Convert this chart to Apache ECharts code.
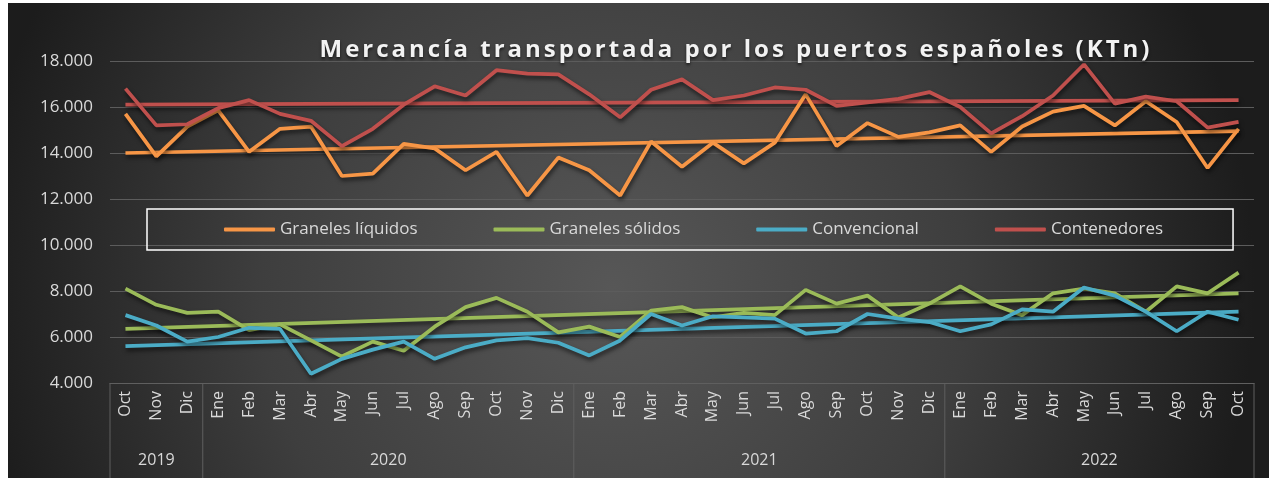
<!DOCTYPE html>
<html><head><meta charset="utf-8">
<script src="https://cdn.jsdelivr.net/npm/echarts@6/dist/echarts.min.js"></script>
<style>html,body{margin:0;padding:0;background:#fff;} #c{position:absolute;left:8px;top:3px;width:1261px;height:475px;}</style>
</head><body><div id="c"></div>
<script>
const months = ['Oct','Nov','Dic',
  'Ene','Feb','Mar','Abr','May','Jun','Jul','Ago','Sep','Oct','Nov','Dic',
  'Ene','Feb','Mar','Abr','May','Jun','Jul','Ago','Sep','Oct','Nov','Dic',
  'Ene','Feb','Mar','Abr','May','Jun','Jul','Ago','Sep','Oct'];
const years = ['2019','2020','2021','2022'];
const yearSpans = [3, 12, 12, 10];
const yTicks = [4000, 18000, 2000];
const titleText = 'Mercancía transportada por los puertos españoles (KTn)';

const liquidos = [15700,13850,15150,15850,14050,15050,15150,13000,13100,14400,14200,13250,14050,12150,13800,
  13250,12150,14500,13400,14450,13550,14450,16550,14300,15300,14700,14900,
  15200,14050,15150,15800,16050,15200,16250,15350,13350,15050];
const solidos = [8100,7400,7050,7100,6300,6550,5850,5150,5800,5400,6450,7300,7700,7100,6200,
  6450,6000,7150,7300,6850,7050,6950,8050,7450,7800,6850,7450,
  8200,7450,6950,7900,8100,7900,7100,8200,7900,8800];
const convencional = [6950,6500,5800,6000,6400,6350,4400,5050,5450,5800,5050,5550,5850,5950,5750,
  5200,5850,7000,6500,6900,6850,6800,6150,6250,7000,6800,6650,
  6250,6550,7200,7100,8150,7800,7100,6250,7100,6750];
const contenedores = [16800,15200,15250,15950,16300,15700,15400,14300,15050,16100,16900,16500,17600,17450,17420,
  16550,15550,16750,17200,16300,16500,16850,16750,16050,16200,16350,16650,
  16000,14850,15600,16500,17850,16150,16450,16250,15100,15350];

// trend line end values [first month, last month]
const trendLiquidos = [14000, 14950];
const trendSolidos = [6350, 7900];
const trendConvencional = [5600, 7100];
const trendContenedores = [16100, 16300];

const names = ['Graneles líquidos','Graneles sólidos','Convencional','Contenedores'];
const colors = ['#F79646','#9BBB59','#4BACC6','#C0504D'];
const seriesData = [liquidos, solidos, convencional, contenedores];
const trends = [trendLiquidos, trendSolidos, trendConvencional, trendContenedores];

// widen the title's letter spacing (as in the original) when the canvas supports it
(function(){
  const P = CanvasRenderingContext2D.prototype;
  if (!('letterSpacing' in P)) return;
  const ft = P.fillText, mt = P.measureText;
  P.fillText = function(t, x, y, m){
    if (t === titleText){ const o = this.letterSpacing; this.letterSpacing = '3px';
      const r = m === undefined ? ft.call(this, t, x, y) : ft.call(this, t, x, y, m); this.letterSpacing = o; return r; }
    return m === undefined ? ft.call(this, t, x, y) : ft.call(this, t, x, y, m);
  };
})();

function trendArr(t){ const a = months.map(()=>null); a[0]=t[0]; a[a.length-1]=t[1]; return a; }

const shadow = {shadowColor:'rgba(0,0,0,0.6)', shadowBlur:4, shadowOffsetX:1, shadowOffsetY:3};
const series = [];
names.forEach((n,i)=>{
  series.push({name:n, type:'line', data:seriesData[i], symbol:'none', smooth:false,
    lineStyle:Object.assign({color:colors[i], width:3.75}, shadow), itemStyle:{color:colors[i]}, z:3});
});
trends.forEach((t,i)=>{
  series.push({name:names[i]+' tendencia', type:'line', data:trendArr(t), connectNulls:true, symbol:'none',
    lineStyle:Object.assign({color:colors[i], width:3.75}, shadow), itemStyle:{color:colors[i]}, z:2, silent:true});
});

const chart = echarts.init(document.getElementById('c'), null, {renderer:'canvas'});
const option = {
  animation:false,
  backgroundColor:{type:'radial', x:0.48, y:0.6, r:1.35, colorStops:[
    {offset:0, color:'#575757'},{offset:0.55, color:'#3e3e3e'},{offset:1, color:'#1c1c1c'}]},
  title:{text:titleText, left:723, top:30, textAlign:'center',
    textStyle:{color:'#f2f2f2', fontSize:24, fontWeight:'bold', fontFamily:'Open Sans',
      textShadowColor:'rgba(0,0,0,0.6)', textShadowBlur:3, textShadowOffsetY:2}},
  legend:{data:names, left:139, top:206, padding:[12,70,12,77], borderColor:'#ffffff', borderWidth:1.5,
    itemGap:76, itemWidth:51, itemHeight:4, icon:'roundRect',
    textStyle:{color:'#d9d9d9', fontSize:17, fontFamily:'Open Sans'}},
  grid:{left:102, right:15, top:58, bottom:95, containLabel:false},
  xAxis:{type:'category', data:months, boundaryGap:true,
    axisLine:{show:true, lineStyle:{color:'#5f5f5f', width:1}},
    axisTick:{show:false},
    axisLabel:{rotate:90, interval:0, color:'#d9d9d9', fontSize:16, fontFamily:'Open Sans', margin:8},
    splitLine:{show:false}},
  yAxis:{type:'value', min:yTicks[0], max:yTicks[1], interval:yTicks[2],
    axisLine:{show:false}, axisTick:{show:false},
    axisLabel:{color:'#d9d9d9', fontSize:17, fontFamily:'Open Sans', margin:17,
      formatter:v=>v.toLocaleString('de-DE')},
    splitLine:{lineStyle:{color:'#5c5c5c', width:1}}},
  series:series
};
chart.setOption(option);

// year groups under the month labels, positioned through the category axis scale
const px = i => chart.convertToPixel({xAxisIndex:0}, i);
const bw = px(1) - px(0);
const axisY = chart.convertToPixel({yAxisIndex:0}, yTicks[0]);
const bottomY = 475;
const g = [];
let start = 0;
const bounds = [px(0) - bw/2];
yearSpans.forEach((s,k)=>{
  const x0 = px(start) - bw/2, x1 = px(start + s - 1) + bw/2;
  bounds.push(x1);
  g.push({type:'text', x:(x0+x1)/2, y:457, style:{text:years[k], fill:'#d9d9d9', font:'16px "Open Sans"', align:'center', verticalAlign:'middle'}});
  start += s;
});
bounds.forEach(x=>{
  g.push({type:'line', shape:{x1:x, y1:axisY, x2:x, y2:bottomY}, style:{stroke:'#5f5f5f', lineWidth:1}});
});
chart.setOption({graphic:g});
</script></body></html>
